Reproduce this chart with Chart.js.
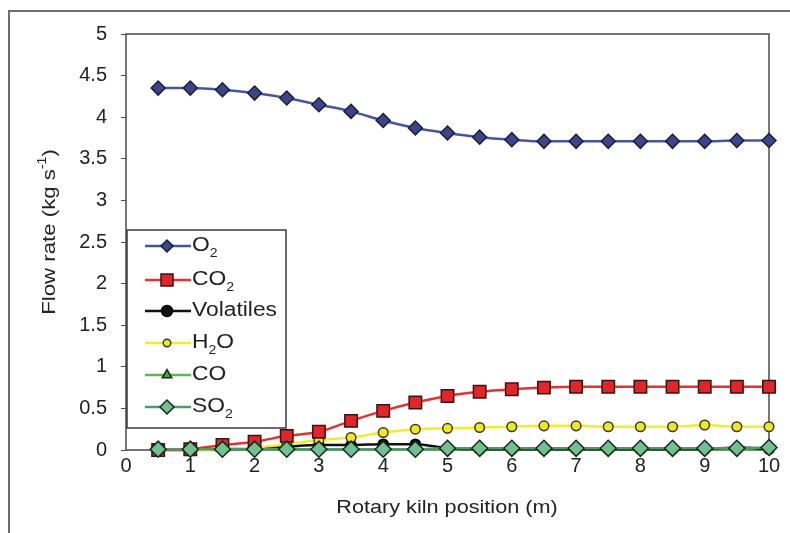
<!DOCTYPE html>
<html>
<head>
<meta charset="utf-8">
<script src="https://cdn.jsdelivr.net/npm/chart.js@4.4.1/dist/chart.umd.min.js"></script>
<style>
html,body{margin:0;padding:0;background:#fff;}
#wrap{width:790px;height:533px;position:relative;}
</style>
</head>
<body>
<div id="wrap"><canvas id="c" width="790" height="533"></canvas></div>
<script>
const positions = [0.5,1,1.5,2,2.5,3,3.5,4,4.5,5,5.5,6,6.5,7,7.5,8,8.5,9,9.5,10];
const o2        = [4.35,4.35,4.33,4.29,4.23,4.15,4.07,3.96,3.87,3.81,3.76,3.73,3.71,3.71,3.71,3.71,3.71,3.71,3.72,3.72];
const co2       = [0.00,0.01,0.06,0.10,0.17,0.22,0.35,0.47,0.57,0.65,0.70,0.73,0.75,0.76,0.76,0.76,0.76,0.76,0.76,0.76];
const volatiles = [0.00,0.00,0.01,0.02,0.04,0.06,0.06,0.07,0.07,0.02,0.01,0.01,0.01,0.01,0.01,0.01,0.01,0.01,0.03,0.01];
const h2o       = [0.00,0.00,0.01,0.03,0.07,0.12,0.15,0.21,0.25,0.26,0.27,0.28,0.29,0.29,0.28,0.28,0.28,0.30,0.28,0.28];
const co        = [0.01,0.01,0.01,0.01,0.01,0.01,0.01,0.01,0.01,0.01,0.01,0.01,0.01,0.01,0.01,0.01,0.01,0.01,0.01,0.01];
const so2       = [0.01,0.01,0.01,0.01,0.01,0.01,0.01,0.01,0.01,0.02,0.02,0.02,0.02,0.02,0.02,0.02,0.02,0.02,0.02,0.03];
const xTicks = [0,1,2,3,4,5,6,7,8,9,10];
const yTicks = [0,0.5,1,1.5,2,2.5,3,3.5,4,4.5,5];

const FONT = '"Liberation Sans", Arial, sans-serif';
const SX = 1.17; // horizontal widening of the reference's typeface
const pts = arr => arr.map((v,i)=>({x:positions[i], y:v}));

const series = [
  {name:'O', sub:'2', data:o2, line:'#45559f', fill:'#3a4786', border:'#1a1e3c', style:'rectRot', r:7, lr:6, order:1},
  {name:'CO', sub:'2', data:co2, line:'#e8302c', fill:'#e0262a', border:'#3a1212', style:'rect', r:8.8, lr:8.5, order:1},
  {name:'Volatiles', sub:'', data:volatiles, line:'#111111', fill:'#111111', border:'#000000', style:'circle', r:5, lr:5.5, order:3},
  {name:'H', sub:'2', tail:'O', data:h2o, line:'#f2ec2a', fill:'#f2e62a', border:'#3a3a10', style:'circle', r:4.8, lr:3.8, order:2},
  {name:'CO', sub:'', data:co, line:'#5fb35f', fill:'#4e9e4e', border:'#123012', style:'triangle', r:5, lr:5.5, order:4},
  {name:'SO', sub:'2', data:so2, line:'#4f9a6c', fill:'#72c08e', border:'#122a18', style:'rectRot', r:8, lr:7, order:0}
];

const datasets = series.map(s=>({
  label: s.name + s.sub + (s.tail||''),
  data: pts(s.data),
  borderColor: s.line,
  backgroundColor: s.fill,
  pointBackgroundColor: s.fill,
  pointBorderColor: s.border,
  pointBorderWidth: 1.5,
  pointStyle: s.style,
  pointRadius: s.r,
  borderWidth: 2.5,
  cubicInterpolationMode: 'monotone',
  clip: false,
  order: s.order
}));

// draws text widened horizontally by SX; returns advance width
function wtext(ctx, str, x, y, size){
  ctx.font = size + 'px ' + FONT;
  ctx.save();
  ctx.translate(x, y);
  ctx.scale(SX, 1);
  ctx.fillText(str, 0, 0);
  ctx.restore();
  return ctx.measureText(str).width * SX;
}
function wwidth(ctx, str, size){
  ctx.font = size + 'px ' + FONT;
  return ctx.measureText(str).width * SX;
}

function drawLabel(ctx, x, y, s){
  ctx.fillStyle = '#222';
  ctx.textBaseline = 'middle';
  ctx.textAlign = 'left';
  let w = wtext(ctx, s.name, x, y, 19.5);
  if (s.sub){
    w += wtext(ctx, s.sub, x + w, y + 8, 12);
  }
  if (s.tail){
    wtext(ctx, s.tail, x + w, y, 19.5);
  }
}

const decor = {
  id:'decor',
  beforeDraw(chart){
    const ctx = chart.ctx;
    ctx.save();
    ctx.fillStyle = '#fff';
    ctx.fillRect(0,0,chart.width,chart.height);
    ctx.strokeStyle = '#6e6e6e';
    ctx.lineWidth = 2;
    ctx.beginPath();
    ctx.moveTo(9, 533); ctx.lineTo(9, 11); ctx.lineTo(790, 11);
    ctx.stroke();
    ctx.restore();
  },
  beforeDatasetsDraw(chart){
    const ctx = chart.ctx, a = chart.chartArea;
    ctx.save();
    ctx.strokeStyle = '#4a4a4a';
    ctx.lineWidth = 1.5;
    ctx.strokeRect(a.left, a.top, a.right - a.left, a.bottom - a.top);
    ctx.restore();
  },
  afterDraw(chart){
    const ctx = chart.ctx;
    ctx.save();
    const bx = 127, by = 230, bw = 159, bh = 198;
    ctx.fillStyle = '#fff';
    ctx.fillRect(bx, by, bw, bh);
    ctx.strokeStyle = '#3a3a3a';
    ctx.lineWidth = 1.5;
    ctx.strokeRect(bx, by, bw, bh);
    const rowY = [246, 280, 311, 343, 375, 407];
    series.forEach((s,i)=>{
      const y = rowY[i];
      ctx.strokeStyle = s.line;
      ctx.lineWidth = 2.5;
      ctx.beginPath(); ctx.moveTo(145, y); ctx.lineTo(191, y); ctx.stroke();
      ctx.fillStyle = s.fill;
      ctx.strokeStyle = s.border;
      ctx.lineWidth = 1.5;
      Chart.helpers.drawPoint(ctx, {pointStyle:s.style, radius:s.lr, rotation:0, borderWidth:1.5}, 167, y);
      drawLabel(ctx, 192, y, s);
    });
    // x title
    ctx.fillStyle = '#222';
    ctx.textBaseline = 'middle';
    ctx.textAlign = 'left';
    const xt = 'Rotary kiln position (m)';
    const xw = wwidth(ctx, xt, 18.5);
    wtext(ctx, xt, 447 - xw/2, 508, 18.5);
    // y title with superscript
    ctx.translate(50, 232);
    ctx.rotate(-Math.PI/2);
    const main = 'Flow rate (kg s';
    const w1 = wwidth(ctx, main, 19), w2 = wwidth(ctx, '-1', 12), w3 = wwidth(ctx, ')', 19);
    let x = -(w1 + w2 + w3)/2;
    wtext(ctx, main, x, 0, 19); x += w1;
    wtext(ctx, '-1', x, -7, 12); x += w2;
    wtext(ctx, ')', x, 0, 19);
    ctx.restore();
  }
};

new Chart(document.getElementById('c'), {
  type:'line',
  data:{datasets},
  options:{
    responsive:false,
    animation:false,
    devicePixelRatio:1,
    layout:{padding:{left:0, top:34, right:21, bottom:0}},
    plugins:{legend:{display:false}, tooltip:{enabled:false}},
    scales:{
      x:{
        type:'linear', min:0, max:10,
        afterBuildTicks(s){ s.ticks = xTicks.map(v=>({value:v})); },
        afterFit(s){ s.height = 83; },
        grid:{display:false, drawTicks:false},
        border:{display:false},
        ticks:{color:'#222', font:{size:20, family:FONT}, padding:4, maxRotation:0, callback:v=>String(v)}
      },
      y:{
        type:'linear', min:0, max:5,
        afterBuildTicks(s){ s.ticks = yTicks.map(v=>({value:v})); },
        afterFit(s){ s.width = 126; },
        grid:{display:true, drawOnChartArea:false, drawTicks:true, tickLength:5, color:'#4a4a4a'},
        border:{display:false},
        ticks:{color:'#222', font:{size:20, family:FONT}, padding:14, callback:v=>String(v)}
      }
    }
  },
  plugins:[decor]
});
</script>
</body>
</html>
